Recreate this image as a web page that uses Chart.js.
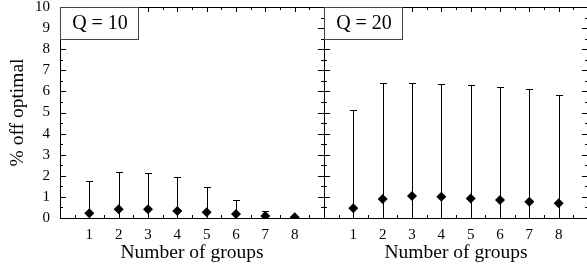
<!DOCTYPE html>
<html>
<head>
<meta charset="utf-8">
<script src="https://cdn.jsdelivr.net/npm/chart.js@4.4.1/dist/chart.umd.min.js"></script>
<style>
  html, body { margin: 0; padding: 0; background: #fff; overflow: hidden; }
  #wrap { position: relative; width: 587px; height: 269px; }
  #c1 { position: absolute; left: 0; top: 0; }
  #c2 { position: absolute; left: 324px; top: 0; }
</style>
</head>
<body>
<div id="wrap">
  <canvas id="c1" width="325" height="269"></canvas>
  <canvas id="c2" width="264" height="269"></canvas>
</div>
<script>
// datos
const groups = [1, 2, 3, 4, 5, 6, 7, 8];
const q10Mean = [0.22, 0.42, 0.41, 0.33, 0.27, 0.19, 0.10, 0.03];
const q10Upper = [1.77, 2.20, 2.13, 1.96, 1.45, 0.85, 0.35, 0.06];
const q20Mean = [0.46, 0.90, 1.04, 1.01, 0.93, 0.85, 0.77, 0.70];
const q20Upper = [5.12, 6.38, 6.38, 6.33, 6.29, 6.19, 6.13, 5.84];
const yTicks = [0, 1, 2, 3, 4, 5, 6, 7, 8, 9, 10];
const panelLabels = ['Q = 10', 'Q = 20'];

const FONT = "'Liberation Serif', 'Times New Roman', serif";

// barras de error, marco, marcas hacia dentro y la etiqueta Q
const panelPlugin = {
  id: 'panel',
  beforeDatasetsDraw(chart, args, opts) {
    const ctx = chart.ctx;
    const x = chart.scales.x, y = chart.scales.y;
    ctx.save();
    ctx.strokeStyle = '#000';
    ctx.lineWidth = 1;
    opts.upper.forEach((v, i) => {
      const px = Math.round(x.getPixelForValue(groups[i])) + 0.5;
      const p0 = y.getPixelForValue(0);
      const p1 = Math.round(y.getPixelForValue(v)) + 0.5;
      ctx.beginPath();
      ctx.moveTo(px, p0);
      ctx.lineTo(px, p1);
      ctx.moveTo(px - 3.5, p1);
      ctx.lineTo(px + 3.5, p1);
      ctx.stroke();
    });
    ctx.restore();
  },
  afterDraw(chart, args, opts) {
    const ctx = chart.ctx;
    const a = chart.chartArea;
    const x = chart.scales.x, y = chart.scales.y;
    ctx.save();
    ctx.strokeStyle = '#000';
    ctx.lineWidth = 1;
    ctx.beginPath();
    // marcas eje y (ambos lados)
    for (let v = 0; v <= 10; v += 0.5) {
      const py = Math.round(y.getPixelForValue(v)) + 0.5;
      const len = Number.isInteger(v) ? 6 : 3;
      ctx.moveTo(a.left, py); ctx.lineTo(a.left + len, py);
      ctx.moveTo(a.right, py); ctx.lineTo(a.right - len, py);
    }
    // marcas eje x (arriba y abajo)
    for (let v = 0.5; v < 9; v += 0.5) {
      const px = Math.round(x.getPixelForValue(v)) + 0.5;
      const len = Number.isInteger(v) ? 5 : 3;
      ctx.moveTo(px, a.top); ctx.lineTo(px, a.top + len);
      ctx.moveTo(px, a.bottom); ctx.lineTo(px, a.bottom - len);
    }
    ctx.stroke();
    // marco
    ctx.strokeRect(Math.round(a.left) + 0.5, Math.round(a.top) + 0.5,
      Math.round(a.right - a.left), Math.round(a.bottom - a.top));
    // caja de la etiqueta
    ctx.font = '20px ' + FONT;
    const bw = 78, bh = 32;
    ctx.fillStyle = '#fff';
    ctx.fillRect(a.left + 0.5, a.top + 0.5, bw, bh);
    ctx.strokeStyle = '#444';
    ctx.strokeRect(Math.round(a.left) + 0.5, Math.round(a.top) + 0.5, bw, bh);
    ctx.fillStyle = '#000';
    ctx.textAlign = 'center';
    ctx.textBaseline = 'middle';
    ctx.fillText(opts.label, a.left + bw / 2 + 1, a.top + bh / 2 + 1);
    ctx.restore();
  }
};

function makePanel(canvasId, mean, upper, label, showY, padding) {
  const ctx = document.getElementById(canvasId).getContext('2d');
  return new Chart(ctx, {
    type: 'scatter',
    data: {
      datasets: [{
        data: groups.map((g, i) => ({ x: g, y: mean[i] })),
        pointStyle: 'rectRot',
        pointRadius: 5,
        pointBackgroundColor: '#000',
        pointBorderColor: '#000',
        pointBorderWidth: 0,
        clip: 0
      }]
    },
    options: {
      responsive: false,
      animation: false,
      layout: { padding: padding, autoPadding: false },
      plugins: {
        legend: { display: false },
        tooltip: { enabled: false },
        panel: { upper: upper, label: label }
      },
      scales: {
        x: {
          type: 'linear',
          min: 0,
          max: 9,
          grid: { display: false, drawTicks: false },
          border: { display: false },
          ticks: {
            stepSize: 1,
            padding: 8,
            maxRotation: 0,
            color: '#000',
            font: { family: FONT, size: 15 },
            callback: v => (v >= 1 && v <= 8) ? v : null
          },
          title: {
            display: true,
            text: 'Number of groups',
            color: '#000',
            font: { family: FONT, size: 19.5 },
            padding: { top: 0, bottom: 4 }
          },
          afterFit: s => {
            s.height = 51;
            s.paddingLeft = 0;
            s.paddingRight = 0;
          }
        },
        y: {
          display: showY,
          min: 0,
          max: 10,
          grid: { display: false, drawTicks: false },
          border: { display: false },
          afterBuildTicks: s => { s.ticks = yTicks.map(v => ({ value: v })); },
          ticks: {
            autoSkip: false,
            padding: 10,
            color: '#000',
            font: { family: FONT, size: 15 }
          },
          title: {
            display: true,
            text: '% off optimal',
            color: '#000',
            font: { family: FONT, size: 19.5 },
            padding: { top: 6, bottom: 0 }
          },
          afterFit: s => {
            s.width = showY ? 60 : 0;
            s.paddingTop = 0;
            s.paddingBottom = 0;
          }
        }
      }
    },
    plugins: [panelPlugin]
  });
}

makePanel('c1', q10Mean, q10Upper, panelLabels[0], true, { top: 7, right: 1, left: 0, bottom: 0 });
makePanel('c2', q20Mean, q20Upper, panelLabels[1], false, { top: 7, right: 0, left: 0, bottom: 0 });
</script>
</body>
</html>
